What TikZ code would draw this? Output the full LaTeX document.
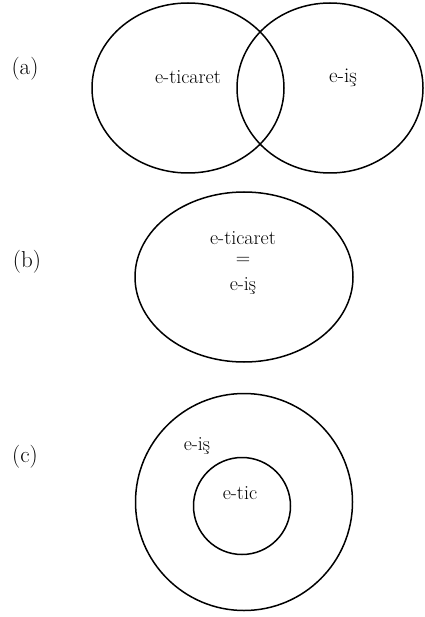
\documentclass[tikz,border=0pt]{standalone}
\usetikzlibrary{shapes.geometric}
\begin{document}
\begin{tikzpicture}[x=1pt,y=-1pt,
  venn/.style={draw,line width=1.5pt,ellipse,inner sep=0pt},
  lbl/.style={font=\fontsize{20}{23}\selectfont,inner sep=0pt},
  tag/.style={font=\fontsize{23}{26}\selectfont,inner sep=0pt}]
\useasboundingbox (0,0) rectangle (424,617);
% (a)
\node[tag] (ta) at (25,69) {(a)};
\node[venn,minimum width=192pt,minimum height=170pt] (A1) at (188,88) {};
\node[venn,minimum width=186pt,minimum height=170pt] (A2) at (330,88) {};
\node[lbl] (ta1) at (188,77) {e-ticaret};
\node[lbl,font=\fontsize{21}{24}\selectfont] (ta2) at (343,78) {e-iş};
% (b)
\node[tag] (tb) at (27,262) {(b)};
\node[venn,minimum width=218pt,minimum height=170pt] (B) at (244,277) {};
\node[lbl] (tb1) at (243,238) {e-ticaret};
\node[lbl] (tb2) at (243,261) {=};
\node[lbl] (tb3) at (243,286) {e-iş};
% (c)
\node[tag] (tc) at (25,457) {(c)};
\node[venn,circle,minimum size=217pt] (C1) at (244,502) {};
\node[venn,circle,minimum size=97pt] (C2) at (242,506) {};
\node[lbl] (tc1) at (197,446) {e-iş};
\node[lbl] (tc2) at (240,493) {e-tic};
\end{tikzpicture}
\end{document}
